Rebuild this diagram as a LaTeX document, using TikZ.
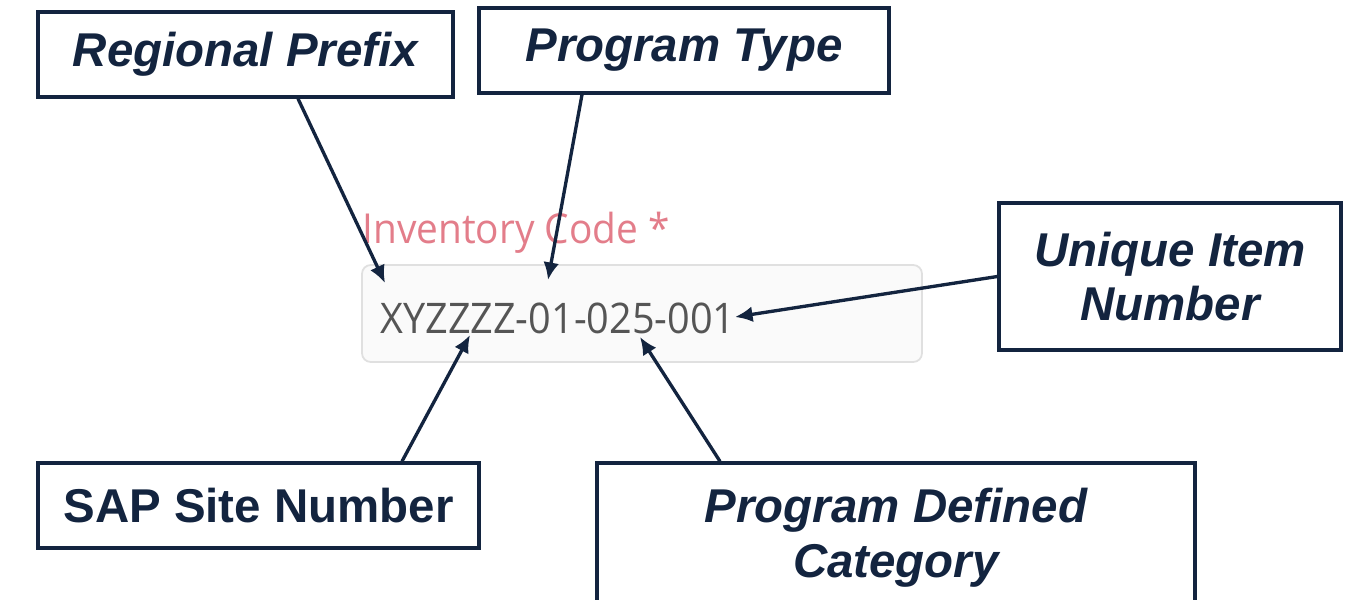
\documentclass[tikz,border=0pt]{standalone}
\usepackage{fontspec}
\setmainfont{Liberation Sans}
\newfontfamily\formfont[FakeStretch=0.94]{Open Sans}
\usetikzlibrary{arrows.meta,calc}
\definecolor{navy}{HTML}{13243F}
\definecolor{fieldpink}{HTML}{E37D8A}
\definecolor{fieldgrey}{HTML}{555555}
\tikzset{
  labelbox/.style={draw=navy,line width=1.9pt,fill=white,text=navy,align=center,inner sep=0pt,
    font=\fontsize{27}{31}\selectfont\bfseries\itshape},
  pointer/.style={draw=navy,line width=1.9pt,-{Latex[length=10pt,width=9pt]}}
}
\begin{document}
\begin{tikzpicture}[x=0.02cm,y=-0.02cm]
\useasboundingbox(0,0)rectangle(1346,599);
\fill[white](0,0)rectangle(1346,599);
% the form field
\draw[fill=black!2,draw=black!12,line width=1pt,rounded corners=5pt](362,265)rectangle(922,362);
\node[anchor=base west,inner sep=0pt,text=fieldpink,font=\formfont\fontsize{23.5}{27}\selectfont](title)at(362,243){Inventory Code *};
\node[anchor=base west,inner sep=0pt,text=fieldgrey,font=\formfont\fontsize{24}{28}\selectfont](code)at(380,333){XYZZZZ-01-025-001};
% label boxes
\node[labelbox,minimum width=8.3cm,minimum height=1.7cm](prefix)at(245.5,54.5){Regional Prefix};
\node[labelbox,minimum width=8.2cm,minimum height=1.7cm](type)at(684,50.5){Program Type};
\node[labelbox,minimum width=6.84cm,minimum height=2.94cm](item)at(1170,276.5){Unique Item\\Number};
\node[labelbox,minimum width=8.82cm,minimum height=1.7cm,font=\fontsize{27}{31}\selectfont\bfseries](site)at(258.5,505.5){SAP Site Number};
\node[labelbox,minimum width=11.96cm,minimum height=2.98cm](category)at(896,537.5){Program Defined\\Category};
% arrow tips on the code
\coordinate(prefix tip)at(385,283);
\coordinate(type tip)at(548,280);
\coordinate(item tip)at(735,317);
\coordinate(site tip)at(470,335);
\coordinate(category tip)at(640,337);
\draw[pointer]($(prefix.south)+(52.5,0)$)--(prefix tip);
\draw[pointer]($(type.south)+(-102,0)$)--(type tip);
\draw[pointer](item.west)--(item tip);
\draw[pointer]($(site.north)+(143.5,0)$)--(site tip);
\draw[pointer]($(category.north)+(-176,0)$)--(category tip);
\end{tikzpicture}
\end{document}
